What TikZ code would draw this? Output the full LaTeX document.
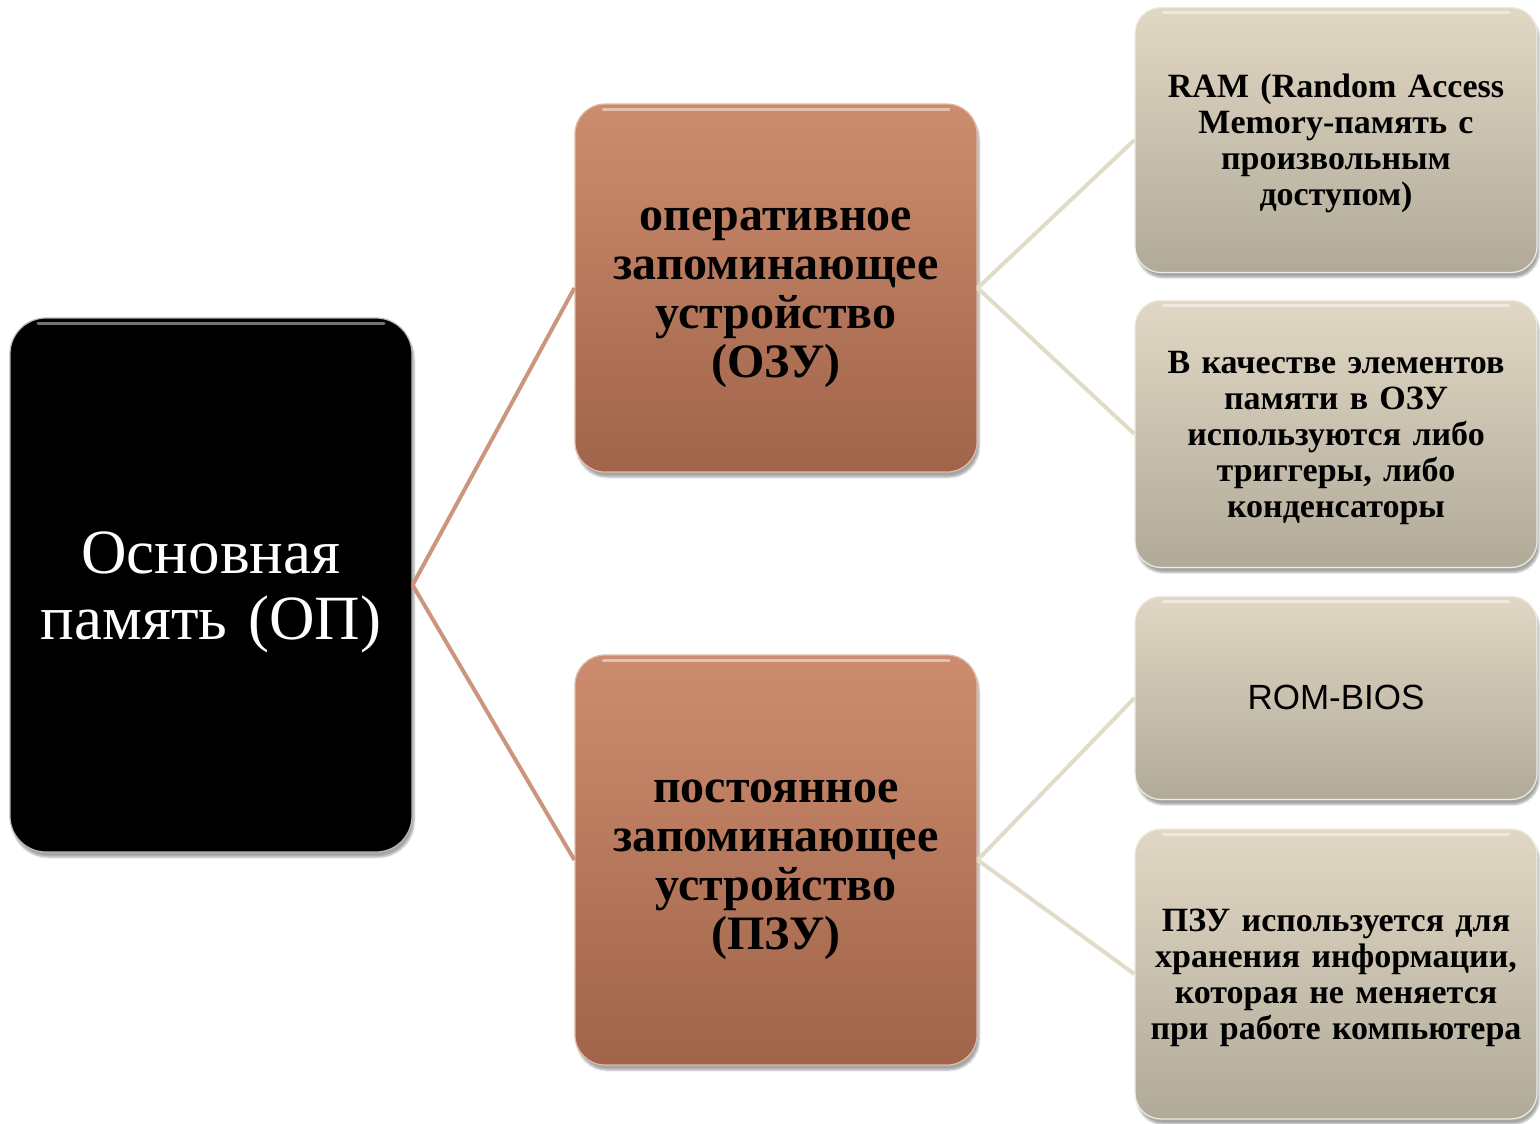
\documentclass[tikz,border=0pt]{standalone}
\usepackage{fontspec}
\setmainfont{Liberation Serif}
\newfontfamily\arialf{Liberation Sans}
\usetikzlibrary{shadows,shadows.blur}
\definecolor{cuTop}{RGB}{205,140,110}
\definecolor{cuBot}{RGB}{160,100,74}
\definecolor{tanTop}{RGB}{224,216,196}
\definecolor{tanBot}{RGB}{178,170,153}
\definecolor{cuLine}{RGB}{204,150,124}
\definecolor{tanLine}{RGB}{226,219,202}
\tikzset{
  box/.style={rectangle, align=center, inner sep=0pt,
    execute at begin node={\rule{0pt}{0.89em}},
    execute at end node={\rule[-0.22em]{0pt}{0pt}},
    blur shadow={shadow xshift=2pt, shadow yshift=-5pt, shadow blur steps=6, shadow opacity=35},
    path picture={\draw[white, opacity=0.45, line width=3pt, line cap=round]
      ([xshift=28pt,yshift=-5pt]path picture bounding box.north west) --
      ([xshift=-28pt,yshift=-5pt]path picture bounding box.north east);}},
  blackbox/.style={box, fill=black, draw=gray!55, line width=1.2pt, rounded corners=36pt,
    minimum width=402pt, minimum height=534pt, text width=380pt, text=white,
    font=\fontsize{63}{66}\selectfont},
  midbox/.style={box, top color=cuTop, bottom color=cuBot, draw=cuTop!60!white, line width=1.2pt,
    rounded corners=30pt, minimum width=402pt, text width=380pt,
    font=\bfseries\fontsize{48}{49}\selectfont},
  rightbox/.style={box, top color=tanTop, bottom color=tanBot, draw=tanTop!50!white, line width=1.2pt,
    rounded corners=26pt, minimum width=402pt, text width=392pt,
    font=\bfseries\fontsize{34}{36}\selectfont},
  cuconn/.style={draw=cuLine, line width=4pt},
  tanconn/.style={draw=tanLine, line width=4pt}
}
\begin{document}
\begin{tikzpicture}[x=1pt,y=-1pt]
\useasboundingbox (0,0) rectangle (1540,1124);
\node[blackbox] (op) at (211,585) {Основная\\память (ОП)};
\node[midbox, minimum height=368pt] (ozu) at (776,288) {оперативное\\запоминающее\\устройство\\(ОЗУ)};
\node[midbox, minimum height=410pt] (pzu) at (776,860) {постоянное\\запоминающее\\устройство\\(ПЗУ)};
\node[rightbox, minimum height=265pt] (ram) at (1336,140) {RAM (Random Access\\Memory-память с\\произвольным\\доступом)};
\node[rightbox, minimum height=267pt] (elem) at (1336,434) {В качестве элементов\\памяти в ОЗУ\\используются либо\\триггеры, либо\\конденсаторы};
\node[rightbox, minimum height=203pt, font=\arialf\fontsize{35}{38}\selectfont] (rom) at (1336,698) {ROM-BIOS};
\node[rightbox, minimum height=290pt] (use) at (1336,974) {ПЗУ используется для\\хранения информации,\\которая не меняется\\при работе компьютера};
\draw[cuconn] (op.east) -- (ozu.west);
\draw[cuconn] (op.east) -- (pzu.west);
\draw[tanconn] (ozu.east) -- (ram.west);
\draw[tanconn] (ozu.east) -- (elem.west);
\draw[tanconn] (pzu.east) -- (rom.west);
\draw[tanconn] (pzu.east) -- (use.west);
\end{tikzpicture}
\end{document}
